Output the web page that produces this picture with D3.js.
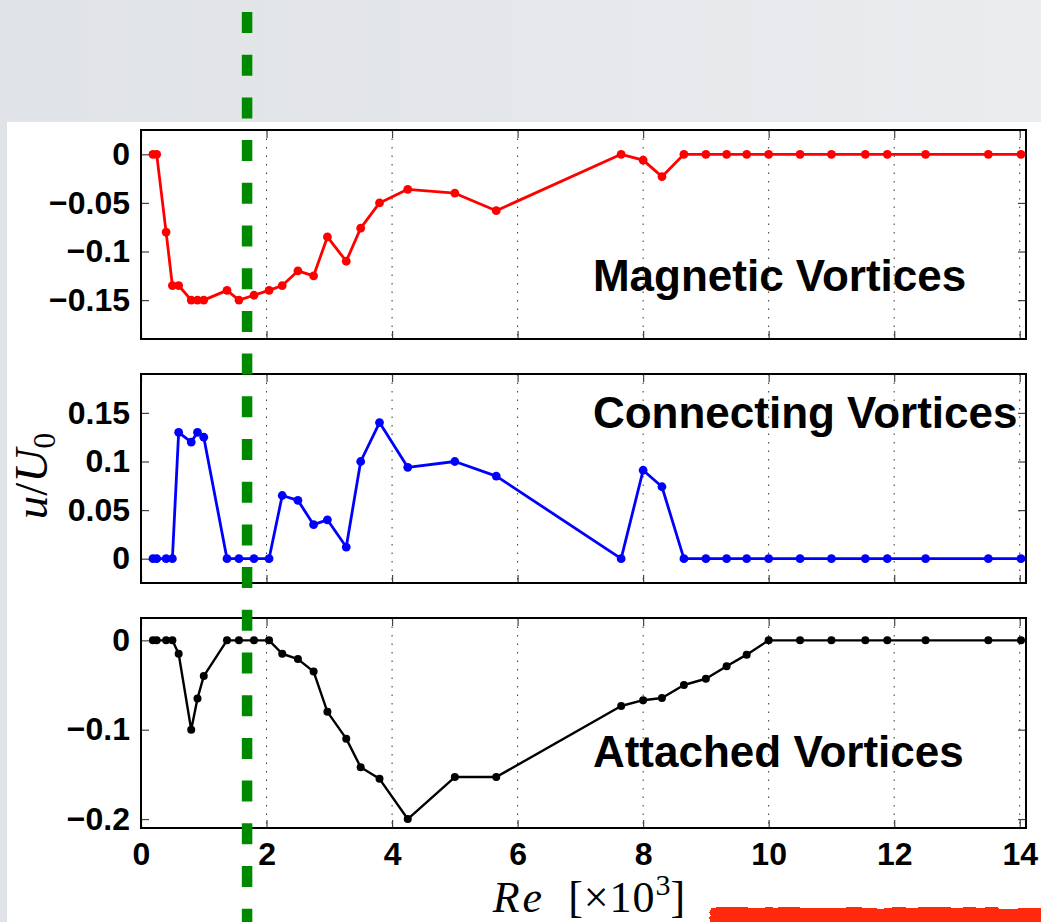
<!DOCTYPE html>
<html>
<head>
<meta charset="utf-8">
<script src="https://cdn.jsdelivr.net/npm/d3@7"></script>
<style>
  html, body { margin: 0; padding: 0; background: #e4e7ea; }
  svg { display: block; }
</style>
</head>
<body>
<svg id="fig" width="1041" height="922"></svg>
<script>
// Reynolds number samples (×10^3), shared by all three vortex families
const reynolds = [0.19, 0.25, 0.4, 0.5, 0.6, 0.8, 0.9, 1.0, 1.37, 1.56, 1.8, 2.04, 2.25, 2.5, 2.75, 2.97,
  3.27, 3.5, 3.8, 4.25, 5.0, 5.66, 7.65, 8.0, 8.3, 8.65, 9.0, 9.33, 9.65, 10.0, 10.5, 11.0, 11.54, 11.89,
  12.5, 13.5, 14.02];

// Drift velocity u/U0 for each family
const magnetic = [0, 0, -0.08, -0.135, -0.135, -0.15, -0.15, -0.15, -0.14, -0.15, -0.145, -0.14, -0.135,
  -0.12, -0.125, -0.085, -0.11, -0.076, -0.05, -0.036, -0.04, -0.058, 0, -0.006, -0.023, 0, 0, 0, 0, 0,
  0, 0, 0, 0, 0, 0, 0];
const connecting = [0, 0, 0, 0, 0.13, 0.12, 0.13, 0.125, 0, 0, 0, 0, 0.065, 0.06, 0.035, 0.04, 0.012,
  0.1, 0.14, 0.094, 0.1, 0.085, 0, 0.091, 0.074, 0, 0, 0, 0, 0, 0, 0, 0, 0, 0, 0, 0];
const attached = [0, 0, 0, 0, -0.015, -0.1, -0.065, -0.04, 0, 0, 0, 0, -0.015, -0.021, -0.035, -0.08,
  -0.11, -0.142, -0.155, -0.2, -0.153, -0.153, -0.0735, -0.067, -0.0645, -0.05, -0.043, -0.029, -0.016,
  0, 0, 0, 0, 0, 0, 0, 0];

// Axis ticks
const xTicks = [0, 2, 4, 6, 8, 10, 12, 14];
const magneticTicks = [0, -0.05, -0.1, -0.15];
const connectingTicks = [0, 0.05, 0.1, 0.15];
const attachedTicks = [0, -0.1, -0.2];

// Critical Reynolds number marked by the dashed green line
const criticalRe = 1.69;

const svg = d3.select("#fig");
const W = 1041, H = 922;

// Backdrop and white sheet
const defs = svg.append("defs");
const bg = defs.append("linearGradient").attr("id", "bg").attr("x1", 0).attr("y1", 0).attr("x2", 1).attr("y2", 0);
bg.append("stop").attr("offset", "0%").attr("stop-color", "#e0e3e7");
bg.append("stop").attr("offset", "60%").attr("stop-color", "#e6e8eb");
bg.append("stop").attr("offset", "100%").attr("stop-color", "#eaecee");
svg.append("rect").attr("width", W).attr("height", H).attr("fill", "url(#bg)");
svg.append("rect").attr("x", 7).attr("y", 122).attr("width", W - 7).attr("height", H - 122).attr("fill", "#fff");

const x = d3.scaleLinear().domain([0, 14.1]).range([141, 1026]);

const panels = [
  { values: magnetic, ticks: magneticTicks, domain: [-0.19, 0.025], top: 130, bottom: 339,
    color: "#ff0000", title: "Magnetic Vortices", titleY: 291, r: 4.4, lw: 2.8 },
  { values: connecting, ticks: connectingTicks, domain: [-0.025, 0.19], top: 374, bottom: 583,
    color: "#0000ff", title: "Connecting Vortices", titleY: 428, r: 4.4, lw: 2.8 },
  { values: attached, ticks: attachedTicks, domain: [-0.21, 0.025], top: 618, bottom: 828,
    color: "#000000", title: "Attached Vortices", titleY: 767, r: 4, lw: 2.4 }
];

const fmt = d => (d === 0 ? "0" : String(d).replace("-", "\u2212"));
const tickFont = "'Liberation Sans', Arial, Helvetica, sans-serif";

panels.forEach((p, i) => {
  const y = d3.scaleLinear().domain(p.domain).range([p.bottom, p.top]);
  const g = svg.append("g");

  // dotted vertical grid
  g.selectAll("line.grid").data(xTicks.filter(t => t > 0)).join("line")
    .attr("x1", d => x(d)).attr("x2", d => x(d))
    .attr("y1", p.top).attr("y2", p.bottom)
    .attr("stroke", "#333").attr("stroke-width", 1).attr("stroke-dasharray", "1.5 7");

  // ticks on all four sides, pointing inward
  const left = g.append("g").attr("transform", `translate(${x.range()[0]},0)`)
    .call(d3.axisLeft(y).tickValues(p.ticks).tickSize(-8).tickPadding(11).tickFormat(fmt));
  const right = g.append("g").attr("transform", `translate(${x.range()[1]},0)`)
    .call(d3.axisRight(y).tickValues(p.ticks).tickSize(-8).tickFormat(""));
  const topAx = g.append("g").attr("transform", `translate(0,${p.top})`)
    .call(d3.axisTop(x).tickValues(xTicks).tickSize(-8).tickFormat(""));
  const bottomAx = g.append("g").attr("transform", `translate(0,${p.bottom})`)
    .call(d3.axisBottom(x).tickValues(xTicks).tickSize(-8).tickPadding(14)
      .tickFormat(i === 2 ? d3.format("d") : ""));

  [left, right, topAx, bottomAx].forEach(a => {
    a.select(".domain").remove();
    a.selectAll(".tick line").attr("stroke", "#444").attr("stroke-width", 1.2);
    a.selectAll("text").attr("font-family", tickFont).attr("font-weight", "bold")
      .attr("font-size", 32).attr("fill", "#000");
  });

  // axes box
  g.append("rect").attr("x", x.range()[0]).attr("y", p.top)
    .attr("width", x.range()[1] - x.range()[0]).attr("height", p.bottom - p.top)
    .attr("fill", "none").attr("stroke", "#000").attr("stroke-width", 2);

  // series line and markers
  const pts = reynolds.map((r, k) => [r, p.values[k]]);
  g.append("path").datum(pts)
    .attr("d", d3.line().x(d => x(d[0])).y(d => y(d[1])))
    .attr("fill", "none").attr("stroke", p.color).attr("stroke-width", p.lw)
    .attr("stroke-linejoin", "round");
  g.selectAll("circle").data(pts).join("circle")
    .attr("cx", d => x(d[0])).attr("cy", d => y(d[1])).attr("r", p.r).attr("fill", p.color);

  // panel title
  g.append("text").attr("x", x(7.2)).attr("y", p.titleY)
    .attr("font-family", tickFont).attr("font-weight", "bold").attr("font-size", 44)
    .attr("fill", "#000").text(p.title);
});

// axis labels
const serif = "'Liberation Serif', 'Times New Roman', serif";
const xl = svg.append("text").attr("x", 589).attr("y", 911.5).attr("text-anchor", "middle")
  .attr("font-family", serif).attr("font-size", 44).attr("fill", "#000");
xl.append("tspan").attr("font-style", "italic").attr("letter-spacing", 3).text("Re");
xl.append("tspan").attr("letter-spacing", 1).text("\u2002[\u00d710");
xl.append("tspan").attr("font-size", 30).attr("dy", -17).text("3");
xl.append("tspan").attr("dy", 17).text("]");

const yl = svg.append("text").attr("transform", "translate(47,476) rotate(-90)").attr("text-anchor", "middle")
  .attr("font-family", serif).attr("font-size", 47).attr("fill", "#000");
yl.append("tspan").attr("font-style", "italic").text("u");
yl.append("tspan").text("/");
yl.append("tspan").attr("font-style", "italic").text("U");
yl.append("tspan").attr("font-size", 32).attr("dy", 8).text("0");

// dashed marker at the critical Reynolds number
svg.append("line").attr("x1", x(criticalRe)).attr("x2", x(criticalRe))
  .attr("y1", 12 - 42.7).attr("y2", H)
  .attr("stroke", "#008a00").attr("stroke-width", 10.5).attr("stroke-dasharray", "21 21.7");

// red brush stroke under the axis label
const rough = defs.append("filter").attr("id", "rough").attr("x", "-5%").attr("y", "-50%")
  .attr("width", "110%").attr("height", "200%");
rough.append("feTurbulence").attr("type", "fractalNoise").attr("baseFrequency", "0.04 0.3")
  .attr("numOctaves", 2).attr("seed", 3).attr("result", "n");
rough.append("feDisplacementMap").attr("in", "SourceGraphic").attr("in2", "n").attr("scale", 5)
  .attr("xChannelSelector", "R").attr("yChannelSelector", "G");
svg.append("rect").attr("x", 710).attr("y", 908).attr("width", 340).attr("height", 20)
  .attr("fill", "#ff2a08").attr("filter", "url(#rough)");
</script>
</body>
</html>
